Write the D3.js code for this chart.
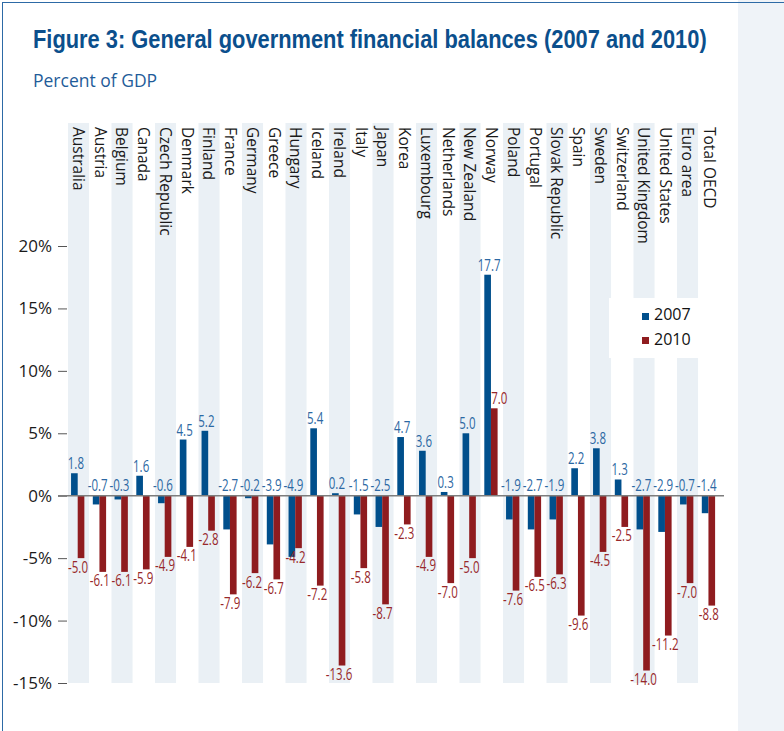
<!DOCTYPE html>
<html>
<head>
<meta charset="utf-8">
<script src="https://cdn.jsdelivr.net/npm/d3@7"></script>
<style>
  html, body { margin: 0; padding: 0; background: #fff; }
  svg { display: block; }
</style>
</head>
<body>
<script>
// Countries / aggregates shown along the x axis
const categories = [
  "Australia", "Austria", "Belgium", "Canada", "Czech Republic", "Denmark",
  "Finland", "France", "Germany", "Greece", "Hungary", "Iceland", "Ireland",
  "Italy", "Japan", "Korea", "Luxembourg", "Netherlands", "New Zealand",
  "Norway", "Poland", "Portugal", "Slovak Republic", "Spain", "Sweden",
  "Switzerland", "United Kingdom", "United States", "Euro area", "Total OECD"
];

// General government financial balance, percent of GDP
const values2007 = [
  1.8, -0.7, -0.3, 1.6, -0.6, 4.5, 5.2, -2.7, -0.2, -3.9, -4.9, 5.4, 0.2,
  -1.5, -2.5, 4.7, 3.6, 0.3, 5.0, 17.7, -1.9, -2.7, -1.9, 2.2, 3.8, 1.3,
  -2.7, -2.9, -0.7, -1.4
];
const values2010 = [
  -5.0, -6.1, -6.1, -5.9, -4.9, -4.1, -2.8, -7.9, -6.2, -6.7, -4.2, -7.2, -13.6,
  -5.8, -8.7, -2.3, -4.9, -7.0, -5.0, 7.0, -7.6, -6.5, -6.3, -9.6, -4.5, -2.5,
  -14.0, -11.2, -7.0, -8.8
];

const seriesNames = ["2007", "2010"];
const yTicks = [-15, -10, -5, 0, 5, 10, 15, 20];

const titleText = "Figure 3: General government financial balances (2007 and 2010)";
const subtitleText = "Percent of GDP";

// ---- layout & styling ----
const W = 784, H = 731;
const blue = "#004f8c", red = "#8f1c1f";
const blueLabel = "#2c68a3", redLabel = "#98282a";
const stripeFill = "#eaf0f5";
const condensed = "'Liberation Sans Narrow', 'Liberation Sans', sans-serif";
const sans = "'Open Sans', 'Noto Sans', sans-serif";

const svg = d3.select("body").append("svg")
  .attr("width", W).attr("height", H);

// side panel on the right
svg.append("rect")
  .attr("x", 738).attr("y", 0).attr("width", W - 738).attr("height", H)
  .attr("fill", "#eff3f8");

// thin frame on top and left
svg.append("line").attr("x1", 2).attr("x2", W).attr("y1", 2.5).attr("y2", 2.5)
  .attr("stroke", "#2d6aa6").attr("stroke-width", 1);
svg.append("line").attr("x1", 2.5).attr("x2", 2.5).attr("y1", 2).attr("y2", H)
  .attr("stroke", "#2d6aa6").attr("stroke-width", 1);

// title: condensed bold, squeezed horizontally to its set width
const title = svg.append("text")
  .attr("font-family", condensed).attr("font-weight", "bold")
  .attr("font-size", 25.5).attr("fill", "#0b4f8c")
  .text(titleText);
const titleLen = title.node().getComputedTextLength();
title.attr("transform", `translate(33,48) scale(${674 / titleLen},1)`);

svg.append("text")
  .attr("x", 33).attr("y", 87)
  .attr("font-family", sans).attr("font-size", 17.5).attr("fill", "#1f5c99")
  .text(subtitleText);

// scales
const x = d3.scaleBand().domain(categories).range([68, 68 + categories.length * 21.75]).padding(0);
const y = d3.scaleLinear().domain([-15, 20]).range([683, 246]);
const bw = x.bandwidth();
const stripeTop = 123;

// alternating background stripes
svg.append("g").selectAll("rect")
  .data(categories.filter((d, i) => i % 2 === 0))
  .join("rect")
  .attr("x", d => x(d)).attr("y", stripeTop)
  .attr("width", bw - 0.7).attr("height", y(-15) - stripeTop)
  .attr("fill", stripeFill);

// category labels, rotated to read downwards
svg.append("g").selectAll("text")
  .data(categories)
  .join("text")
  .attr("transform", d => `translate(${x(d) + bw / 2 - 6},127) rotate(90)`)
  .attr("font-family", sans).attr("font-size", 15.5).attr("fill", "#1a1a1a")
  .text(d => d);

// y axis
const yAxis = svg.append("g")
  .attr("transform", "translate(67,0)")
  .call(d3.axisLeft(y).tickValues(yTicks).tickFormat(d => d + "%").tickSize(9).tickPadding(6));
yAxis.select(".domain").remove();
yAxis.selectAll(".tick line").attr("stroke", "#555").attr("stroke-width", 1);
yAxis.selectAll(".tick text")
  .attr("font-family", sans).attr("font-size", 17).attr("fill", "#1a1a1a");

// legend box (white, sits over the stripes)
svg.append("rect")
  .attr("x", 609).attr("y", 298).attr("width", 738 - 609).attr("height", 60)
  .attr("fill", "#fff");

const legend = svg.append("g");
[blue, red].forEach((c, i) => {
  legend.append("rect")
    .attr("x", 642).attr("y", 313 + i * 24).attr("width", 7).attr("height", 7)
    .attr("fill", c);
  legend.append("text")
    .attr("x", 654).attr("y", 320 + i * 25)
    .attr("font-family", sans).attr("font-size", 16).attr("fill", "#111")
    .text(seriesNames[i]);
});

// bars
const rows = categories.map((c, i) => ({ c, v07: values2007[i], v10: values2010[i] }));
const barW = 6.65;
const y0 = y(0);

const bars = svg.append("g");
bars.selectAll("rect.b07").data(rows).join("rect")
  .attr("class", "b07")
  .attr("x", d => x(d.c) + 3.05).attr("width", barW)
  .attr("y", d => Math.min(y(d.v07), y0))
  .attr("height", d => Math.abs(y(d.v07) - y0))
  .attr("fill", blue);
bars.selectAll("rect.b10").data(rows).join("rect")
  .attr("class", "b10")
  .attr("x", d => x(d.c) + 3.05 + barW).attr("width", barW)
  .attr("y", d => Math.min(y(d.v10), y0))
  .attr("height", d => Math.abs(y(d.v10) - y0))
  .attr("fill", red);

// zero line
svg.append("line")
  .attr("x1", 58).attr("x2", 724).attr("y1", y0).attr("y2", y0)
  .attr("stroke", "#7d7d7d").attr("stroke-width", 1.6);

// value labels: narrow figures with a plain hyphen for negatives
const fmt = v => v.toFixed(1);
const squeeze = 0.72;
const labels = svg.append("g")
  .attr("font-family", sans).attr("font-size", 16).attr("text-anchor", "middle");

labels.selectAll("text.l07").data(rows).join("text")
  .attr("class", "l07")
  .attr("transform", d => {
    const lx = x(d.c) + 3.05 + barW / 2 + 1.5;
    const ly = d.v07 >= 0 ? y(d.v07) - 4 : y0 - 5;
    return `translate(${lx},${ly}) scale(${squeeze},1)`;
  })
  .attr("fill", blueLabel)
  .text(d => fmt(d.v07));

labels.selectAll("text.l10").data(rows).join("text")
  .attr("class", "l10")
  .attr("transform", d => {
    const cx = x(d.c) + 3.05 + barW * 1.5;
    const lx = d.v10 >= 0 ? cx + 5 : cx - 3;
    const ly = d.v10 >= 0 ? y(d.v10) - 4 : y(d.v10) + 14.5;
    return `translate(${lx},${ly}) scale(${squeeze},1)`;
  })
  .attr("fill", redLabel)
  .text(d => fmt(d.v10));
</script>
</body>
</html>
